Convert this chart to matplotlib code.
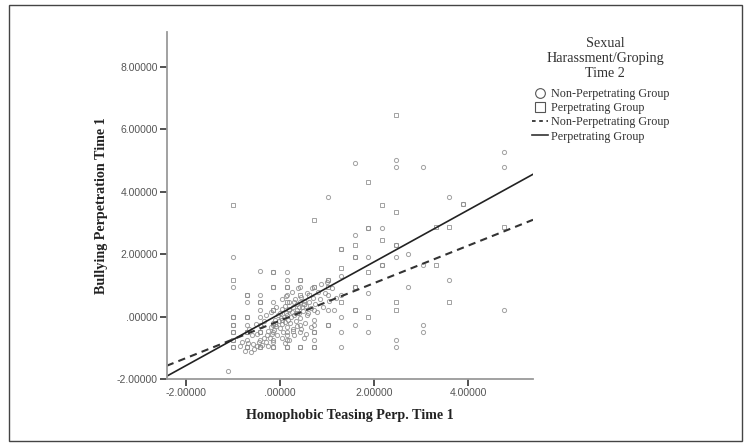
import matplotlib
matplotlib.use('Agg')
import matplotlib.pyplot as plt
from matplotlib.lines import Line2D
from matplotlib.patches import Rectangle
from matplotlib.ticker import FuncFormatter

# non-perpetrating group (circles)
np_x = [-1.0, -1.0, -1.0, -1.0, -1.0, -1.0, -1.0, -1.11,
        -0.71, -0.71, -0.71, -0.71, -0.71, -0.71, -0.71,
        -0.43, -0.43, -0.43, -0.43, -0.43, -0.43, -0.43, -0.43, -0.43,
        -0.14, -0.14, -0.14, -0.14, -0.14, -0.14, -0.14, -0.14,
        0.15, 0.15, 0.15, 0.15, 0.15, 0.15, 0.15,
        0.43, 0.43, 0.43, 0.43, 0.43, 0.43,
        0.72, 0.72, 0.72, 0.72, 0.72, 0.72,
        1.01, 1.01, 1.01, 1.01, 1.01,
        1.30, 1.30, 1.30, 1.30, 1.30, 1.30,
        1.59, 1.59, 1.59, 1.59, 1.59, 1.59,
        1.88, 1.88, 1.88, 1.88,
        2.17, 2.17,
        2.46, 2.46, 2.46, 2.46, 2.46, 2.46,
        2.73, 2.73,
        3.04, 3.04, 3.04, 3.04,
        3.60, 3.60, 3.90,
        4.76, 4.76, 4.76,
        -0.62, -0.55, -0.50, -0.58, -0.45, -0.38, -0.35, -0.30, -0.28, -0.25,
        -0.22, -0.20, -0.18, -0.15, -0.12, -0.10, -0.08, -0.06, -0.05, -0.03,
        0.00, 0.00, 0.02, 0.04, 0.05, 0.06, 0.08, 0.10, 0.10, 0.12,
        0.14, 0.15, 0.17, 0.18, 0.20, 0.22, 0.23, 0.25, 0.27, 0.28,
        0.30, 0.32, 0.33, 0.35, 0.37, 0.40, 0.42, 0.44, 0.46, 0.48,
        0.50, 0.53, 0.55, 0.58, 0.60, 0.62, 0.65, 0.68, 0.70, 0.75,
        0.78, 0.80, 0.85, 0.88, 0.92, 0.95, 1.00, 1.05, 1.10, 1.15,
        1.20, -0.40, -0.35, -0.30, -0.48, -0.52, -0.60, -0.65, -0.68, -0.75,
        -0.80, -0.85, 0.30, 0.35, 0.45, 0.50, 0.20, 0.05, -0.08, -0.20,
        0.12, 0.25, 0.38, 0.15, 0.40, 0.58, 0.72, 0.30, 0.10, -0.15,
        0.55, 0.66, 0.05, -0.25]
np_y = [-0.99, -0.75, -0.51, -0.27, -0.03, 0.94, 1.90, -1.74,
        -0.99, -0.75, -0.51, -0.27, -0.03, 0.45, 0.69,
        -0.99, -0.75, -0.51, -0.27, -0.03, 0.21, 0.45, 0.69, 1.46,
        -0.99, -0.75, -0.51, -0.27, 0.21, 0.45, 0.94, 1.43,
        -0.99, -0.75, -0.51, 0.69, 0.94, 1.18, 1.43,
        -0.99, -0.51, -0.27, 0.45, 0.94, 1.18,
        -0.99, -0.75, -0.51, -0.27, 0.21, 0.94,
        -0.27, 0.21, 0.69, 1.18, 3.82,
        -0.51, -0.99, -0.03, 0.69, 1.30, 2.16,
        -0.27, 0.21, 0.94, 1.90, 2.62, 4.90,
        -0.51, 0.75, 1.90, 2.83,
        2.83, 1.66,
        -0.99, -0.75, 1.90, 2.28, 4.78, 5.02,
        0.94, 2.00,
        -0.27, -0.51, 4.78, 1.66,
        1.18, 3.83, 3.59,
        0.21, 4.78, 5.28,
        -1.12, -1.05, -0.95, -0.88, -0.82, -0.90, -0.70, -0.80, -0.60, -0.45,
        -0.68, -0.35, -0.55, -0.20, -0.42, -0.10, -0.30, -0.58, 0.05, -0.15,
        -0.38, 0.12, -0.05, -0.25, 0.25, -0.50, 0.00, -0.18, 0.35, 0.10,
        -0.35, 0.05, -0.10, 0.20, 0.45, -0.22, 0.00, 0.15, -0.40, 0.30,
        0.05, 0.55, -0.15, 0.20, 0.40, 0.10, -0.05, 0.62, 0.30, 0.18,
        0.50, -0.20, 0.35, 0.75, 0.10, 0.48, 0.28, 0.90, 0.60, 0.40,
        0.15, 0.80, 0.55, 1.05, 0.30, 0.75, 1.10, 0.50, 0.90, 0.20,
        0.60, -0.30, -0.15, 0.05, -0.55, -0.25, -0.60, -0.40, -0.85, -1.10,
        -0.80, -0.95, -0.60, -0.30, -0.40, -0.70, -0.75, 0.55, 0.30, 0.15,
        0.65, 0.80, 0.90, -0.60, 0.30, 0.05, -0.10, 0.45, -0.85, -0.80,
        -0.55, -0.35, -0.70, -0.95]

# perpetrating group (squares)
p_x = [-1.0, -1.0, -1.0, -1.0, -1.0, -1.0, -1.0,
       -0.71, -0.71, -0.71, -0.71,
       -0.43, -0.43, -0.43,
       -0.14, -0.14, -0.14, -0.14,
       0.15, 0.15, 0.15,
       0.43, 0.43, 0.43,
       0.72, 0.72, 0.72, 0.72,
       1.01, 1.01, 1.01,
       1.30, 1.30, 1.30,
       1.59, 1.59, 1.59, 1.59,
       1.88, 1.88, 1.88, 1.88,
       2.17, 2.17, 2.17,
       2.46, 2.46, 2.46, 2.46, 2.46,
       3.31, 3.31, 3.60, 3.60, 3.90, 4.76,
       0.05, 0.20, 0.35, 0.50, -0.10, 0.28, 0.62]
p_y = [3.58, 1.18, -0.03, -0.27, -0.51, -0.75, -0.99,
       -0.03, -0.51, -0.99, 0.69,
       -0.99, -0.51, 0.45,
       -0.99, 0.94, 0.21, 1.43,
       -0.99, 0.45, 0.94,
       -0.99, 0.69, 1.18,
       -0.99, -0.51, 3.10, 0.94,
       0.94, 1.18, -0.27,
       1.55, 2.16, 0.45,
       0.94, 0.21, 1.90, 2.28,
       4.30, 2.83, -0.03, 1.42,
       3.58, 2.45, 1.66,
       6.46, 3.35, 0.45, 0.21, 2.28,
       2.86, 1.66, 0.45, 2.86, 3.59, 2.86,
       -0.10, 0.25, 0.10, 0.40, -0.25, -0.45, 0.70]

# fit lines (intercept, slope)
fit_np = (-0.13, 0.60)
fit_p = (0.09, 0.83)

x_ticks = [-2, 0, 2, 4]
y_ticks = [-2, 0, 2, 4, 6, 8]
x_lim = (-2.41, 5.38)
y_lim = (-2.0, 9.12)

legend_title = 'Sexual\nHarassment/Groping\nTime 2'
legend_labels = ['Non-Perpetrating Group', 'Perpetrating Group',
                 'Non-Perpetrating Group', 'Perpetrating Group']


def fmt(v, pos):
    s = '{:.5f}'.format(v)
    if s.startswith('0.'):
        s = s[1:]
    return s


fig = plt.figure(figsize=(7.48, 4.45), dpi=100)
ax = fig.add_axes([0.2229, 0.1483, 0.4897, 0.7805])

ax.plot(np_x, np_y, 'o', ms=3.0, mfc='none', mec='#8a8a8a', mew=0.7, alpha=0.8)
ax.plot(p_x, p_y, 's', ms=2.8, mfc='none', mec='#8a8a8a', mew=0.7, alpha=0.8)

xs = [x_lim[0], x_lim[1]]
ax.plot(xs, [fit_np[0] + fit_np[1] * v for v in xs], color='#333333', lw=1.5,
        ls=(0, (3.5, 2.5)))
ax.plot(xs, [fit_p[0] + fit_p[1] * v for v in xs], color='#222222', lw=1.2)

ax.set_xlim(x_lim)
ax.set_ylim(y_lim)
ax.set_xticks(x_ticks)
ax.set_yticks(y_ticks)
ax.xaxis.set_major_formatter(FuncFormatter(fmt))
ax.yaxis.set_major_formatter(FuncFormatter(fmt))
ax.tick_params(direction='out', length=5, width=1.2, color='#333333',
               labelsize=7.5, labelcolor='#555555', pad=1.5)
for lab in ax.get_xticklabels() + ax.get_yticklabels():
    lab.set_family('Liberation Sans')

for s in ['top', 'right']:
    ax.spines[s].set_visible(False)
for s in ['left', 'bottom']:
    ax.spines[s].set_color('#9a9a9a')
    ax.spines[s].set_linewidth(1.3)

ax.set_xlabel('Homophobic Teasing Perp. Time 1', family='Liberation Serif',
              fontweight='bold', fontsize=10.2, color='#222222', labelpad=8)
ax.set_ylabel('Bullying Perpetration Time 1', family='Liberation Serif',
              fontweight='bold', fontsize=10.2, color='#222222', labelpad=6)

# legend title drawn on its own so the gap above the entries can be set
fig.text(0.809, 0.917, legend_title, ha='center', va='top', ma='center',
         family='Liberation Serif', fontsize=10.2, color='#333333',
         linespacing=1.22)

handles = [Line2D([], [], marker='o', ls='none', ms=7, mfc='none', mec='#555555', mew=0.8),
           Line2D([], [], marker='s', ls='none', ms=7, mfc='none', mec='#555555', mew=0.8),
           Line2D([], [], color='#333333', lw=1.3, ls=(0, (2, 2))),
           Line2D([], [], color='#333333', lw=1.2)]
leg = fig.legend(handles, legend_labels, loc='upper left',
                 bbox_to_anchor=(0.711, 0.802), frameon=False,
                 prop={'family': 'Liberation Serif', 'size': 8.7},
                 handlelength=1.3, handletextpad=0.3, labelspacing=0.18,
                 borderaxespad=0, borderpad=0)
for t in leg.get_texts():
    t.set_color('#333333')

fig.patches.append(Rectangle((0.012, 0.008), 0.98, 0.98, transform=fig.transFigure,
                             fill=False, ec='#444444', lw=1.0))

fig.savefig('out.png', dpi=100)
